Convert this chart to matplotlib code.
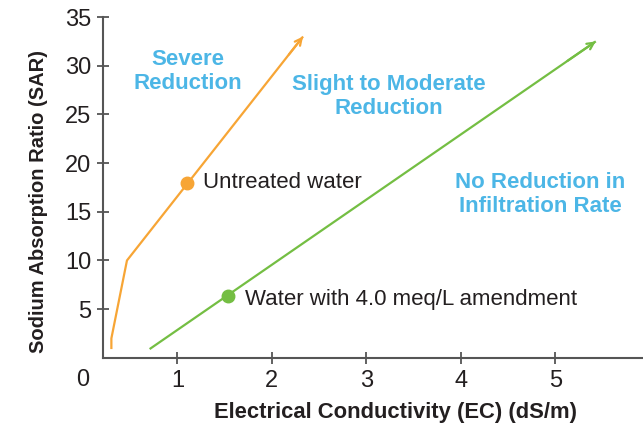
import matplotlib.pyplot as plt

plt.rcParams['font.family'] = ['Liberation Sans', 'DejaVu Sans']

# Untreated water line (EC, SAR)
untreated_ec = [0.30, 0.30, 0.465, 2.33]
untreated_sar = [0.9, 2.0, 10.0, 33.0]
untreated_pt = (1.105, 18.0)

# Amended water line
amended_ec = [0.705, 5.43]
amended_sar = [0.9, 32.5]
amended_pt = (1.532, 6.35)

x_ticks = [1, 2, 3, 4, 5]
y_ticks = [5, 10, 15, 20, 25, 30, 35]

orange = '#F7A535'
green = '#74BE43'
blue = '#4CB6E6'
dark = '#231F20'
axis_col = '#555555'

fig = plt.figure(figsize=(6.43, 4.26), dpi=100)
ax = fig.add_axes([0.160, 0.160, 0.840, 0.800])

ax.plot(untreated_ec, untreated_sar, color=orange, lw=1.6, solid_capstyle='butt')
ax.annotate('', xy=(untreated_ec[-1], untreated_sar[-1]),
            xytext=(untreated_ec[-1] - 0.15, untreated_sar[-1] - 1.85),
            arrowprops=dict(arrowstyle='->', color=orange, lw=1.6,
                            shrinkA=0, shrinkB=0, mutation_scale=12))
ax.plot(*untreated_pt, 'o', color=orange, ms=9)

ax.plot(amended_ec, amended_sar, color=green, lw=1.6, solid_capstyle='butt')
ax.annotate('', xy=(amended_ec[-1], amended_sar[-1]),
            xytext=(amended_ec[-1] - 0.3, amended_sar[-1] - 2.0),
            arrowprops=dict(arrowstyle='->', color=green, lw=1.6,
                            shrinkA=0, shrinkB=0, mutation_scale=12))
ax.plot(*amended_pt, 'o', color=green, ms=9)

ax.set_xlim(0.21, 5.93)
ax.set_ylim(0, 35)
ax.set_xticks(x_ticks)
ax.set_yticks(y_ticks)
ax.tick_params(direction='inout', length=9, width=1.3, color=axis_col,
               labelsize=17, labelcolor=dark)
ax.tick_params(axis='y', pad=4)
ax.tick_params(axis='x', pad=4)
for side in ['top', 'right']:
    ax.spines[side].set_visible(False)
for side in ['left', 'bottom']:
    ax.spines[side].set_color(axis_col)
    ax.spines[side].set_linewidth(1.5)

ax.text(0.0, -2.3, '0', ha='center', va='center', fontsize=17, color=dark, clip_on=False)

ax.set_xlabel('Electrical Conductivity (EC) (dS/m)', fontsize=15.8, fontweight='bold',
              color=dark, va='center')
ax.set_ylabel('Sodium Absorption Ratio (SAR)', fontsize=14.5, fontweight='bold',
              color=dark, va='center')
ax.xaxis.set_label_coords(0.541, -0.16)
ax.yaxis.set_label_coords(-0.12, 0.46)

ax.text(1.11, 29.4, 'Severe\nReduction', ha='center', va='center', fontsize=16,
        fontweight='bold', color=blue, linespacing=1.2)
ax.text(3.24, 26.8, 'Slight to Moderate\nReduction', ha='center', va='center',
        fontsize=16, fontweight='bold', color=blue, linespacing=1.2)
ax.text(4.84, 16.75, 'No Reduction in\nInfiltration Rate', ha='center', va='center',
        fontsize=16, fontweight='bold', color=blue, linespacing=1.2)

ax.text(1.27, 18.0, 'Untreated water', ha='left', va='center', fontsize=16, color=dark)
ax.text(1.72, 6.0, 'Water with 4.0 meq/L amendment', ha='left', va='center',
        fontsize=16, color=dark)

fig.savefig('out.png', dpi=100)
